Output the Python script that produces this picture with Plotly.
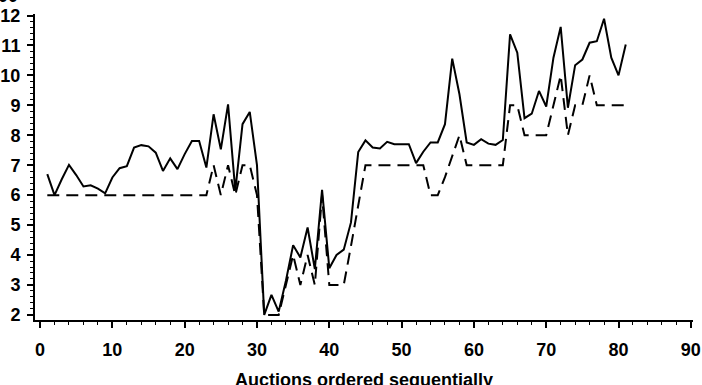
import plotly.graph_objects as go

auction = list(range(1, 82))

price_solid = [
    6.7, 6.0, 6.53, 7.01, 6.67, 6.29, 6.33, 6.22, 6.06, 6.59,
    6.9, 6.97, 7.59, 7.67, 7.63, 7.42, 6.81, 7.23, 6.87, 7.37,
    7.81, 7.81, 6.92, 8.7, 7.53, 9.03, 6.15, 8.37, 8.78, 7.0,
    2.0, 2.67, 2.11, 3.14, 4.33, 3.92, 4.92, 3.53, 6.18, 3.56,
    4.0, 4.18, 5.09, 7.44, 7.83, 7.59, 7.56, 7.78, 7.7, 7.7,
    7.7, 7.07, 7.45, 7.76, 7.76, 8.37, 10.56, 9.37, 7.76, 7.68,
    7.87, 7.72, 7.68, 7.84, 11.37, 10.76, 8.57, 8.72, 9.48, 8.96,
    10.59, 11.62, 8.92, 10.34, 10.53, 11.09, 11.14, 11.89, 10.59, 10.0,
    11.03,
]

price_dashed = [
    6, 6, 6, 6, 6, 6, 6, 6, 6, 6,
    6, 6, 6, 6, 6, 6, 6, 6, 6, 6,
    6, 6, 6, 7, 6, 7, 6, 7, 7, 6,
    2, 2, 2, 3, 4, 3, 4, 3, 6, 3,
    3, 3, 4.3, 5.7, 7, 7, 7, 7, 7, 7,
    7, 7, 7, 6, 6, 6.6, 7.3, 8, 7, 7,
    7, 7, 7, 7, 9, 9, 8, 8, 8, 8,
    9, 10, 8, 9, 9, 10, 9, 9, 9, 9,
    9,
]

x_ticks = [0, 10, 20, 30, 40, 50, 60, 70, 80, 90]
y_ticks = [2, 3, 4, 5, 6, 7, 8, 9, 10, 11, 12]
x_title = "Auctions ordered sequentially"
top_label = "000"

FONT = "Liberation Sans"

fig = go.Figure()
fig.add_trace(go.Scatter(
    x=auction, y=price_solid, mode="lines",
    line=dict(color="black", width=2), showlegend=False,
))
fig.add_trace(go.Scatter(
    x=auction, y=price_dashed, mode="lines",
    line=dict(color="black", width=2, dash="12px,7px"), showlegend=False,
))

W, H = 702, 385
ml, mr, mt, mb = 35, 9, 14, 65

fig.update_layout(
    width=W, height=H,
    margin=dict(l=ml, r=mr, t=mt, b=mb, pad=0, autoexpand=False),
    paper_bgcolor="white", plot_bgcolor="white",
    font=dict(family=FONT, size=18, color="black", weight="bold"),
    xaxis=dict(
        range=[-0.7, 90.3], tickvals=x_ticks, ticktext=[str(v) for v in x_ticks],
        automargin=False,
        showgrid=False, zeroline=False, showline=True, linecolor="black", linewidth=2,
        ticks="outside", ticklen=6, tickwidth=1.5, tickcolor="black",
        minor=dict(dtick=2, ticks="outside", ticklen=3, tickwidth=1, tickcolor="black", showgrid=False),
        tickfont=dict(family=FONT, size=18, color="black", weight="bold"),
        ticklabelstandoff=6,
    ),
    yaxis=dict(
        range=[1.83, 12.05], tickvals=y_ticks, ticktext=[str(v) for v in y_ticks],
        automargin=False,
        showgrid=False, zeroline=False, showline=True, linecolor="black", linewidth=2,
        ticks="outside", ticklen=6, tickwidth=1.5, tickcolor="black",
        minor=dict(dtick=0.2, ticks="outside", ticklen=3, tickwidth=1, tickcolor="black", showgrid=False),
        tickfont=dict(family=FONT, size=18, color="black", weight="bold"),
        ticklabelstandoff=3,
    ),
)

pw = W - ml - mr
ph = H - mt - mb
fig.add_annotation(
    text=x_title, xref="paper", yref="paper",
    x=0.5, y=(H - mb - 368) / ph, xanchor="center", yanchor="top",
    showarrow=False, font=dict(family=FONT, size=18, color="black", weight="bold"),
)
fig.add_annotation(
    text=top_label, xref="paper", yref="paper",
    x=(20 - ml) / pw, y=(H - mb - 8) / ph, xanchor="right", yanchor="bottom",
    showarrow=False, font=dict(family=FONT, size=18, color="black", weight="bold"),
)

fig.write_html(
    "out.html",
    config={"displayModeBar": False},
    post_script="document.body.style.margin='0';document.body.style.overflow='hidden';",
)
